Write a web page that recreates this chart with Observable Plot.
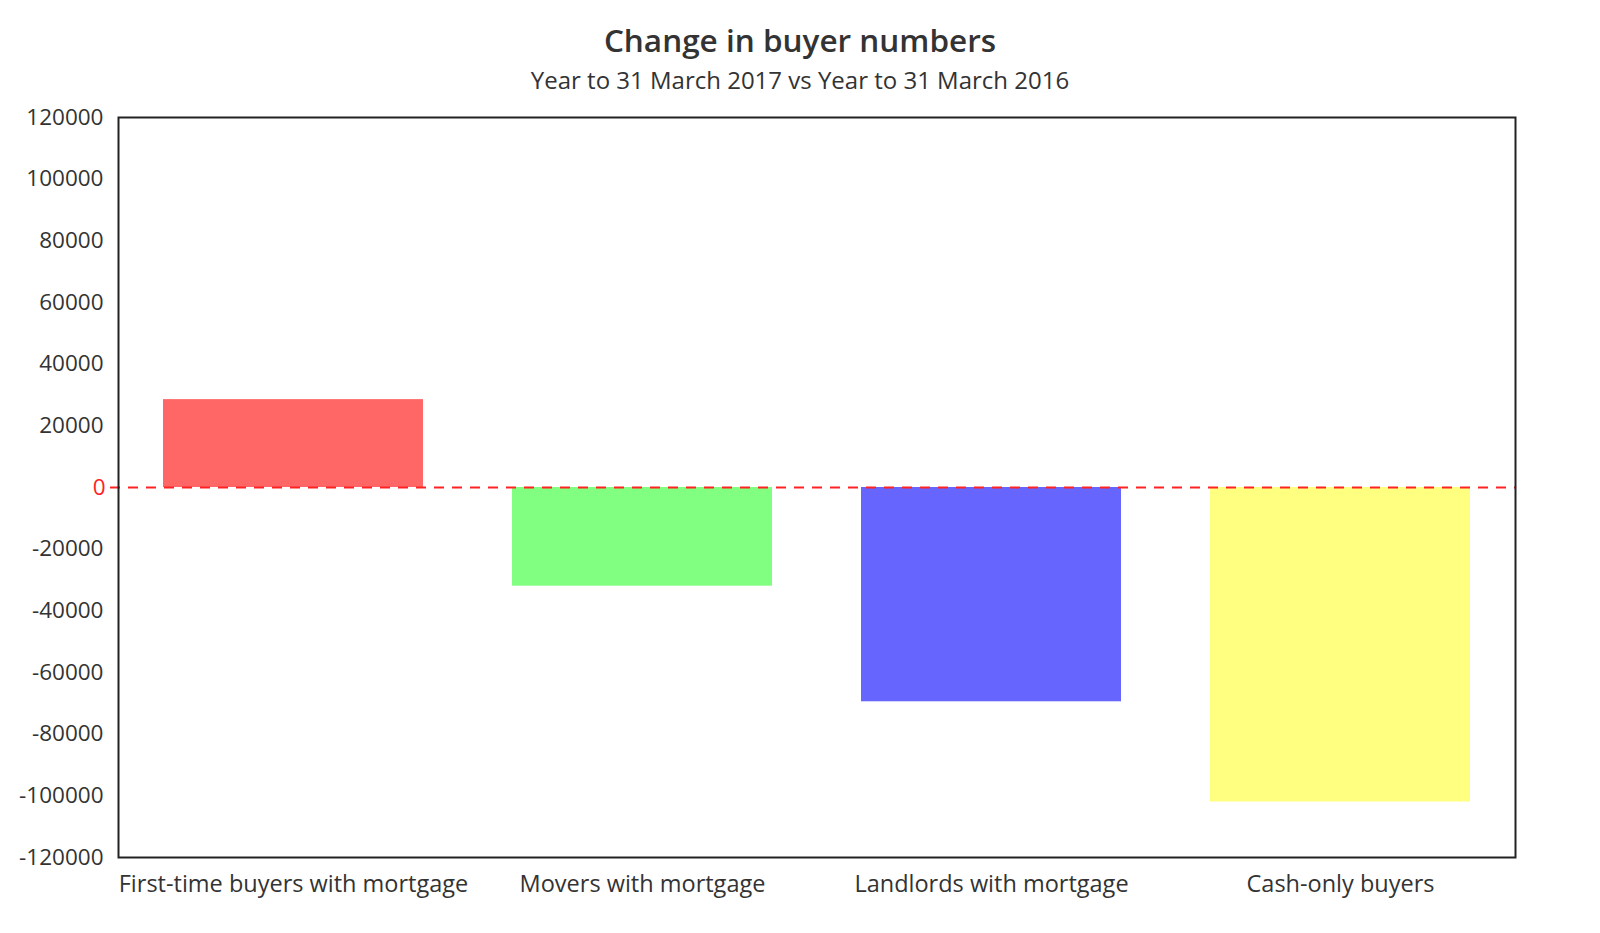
<!DOCTYPE html>
<html>
<head>
<meta charset="utf-8">
<script src="https://cdn.jsdelivr.net/npm/d3@7"></script>
<script src="https://cdn.jsdelivr.net/npm/@observablehq/plot@0.6"></script>
<style>
  body { margin: 0; background: #fff; font-family: "Open Sans", sans-serif; }
  #wrap { width: 1600px; position: relative; }
  #head { position: relative; height: 100px; width: 1600px; }
  #title { position: absolute; left: 0; width: 1600px; text-align: center; top: 21px; font-size: 31.5px; line-height: 38px; font-weight: 600; color: #333; }
  #subtitle { position: absolute; left: 0; width: 1600px; text-align: center; top: 65px; font-size: 24px; line-height: 30px; font-weight: 400; color: #333; }
  svg { display: block; }
</style>
</head>
<body>
<div id="wrap">
  <div id="head">
    <div id="title">Change in buyer numbers</div>
    <div id="subtitle">Year to 31 March 2017 vs Year to 31 March 2016</div>
  </div>
  <div id="chart"></div>
</div>
<script>
const categories = ["First-time buyers with mortgage", "Movers with mortgage", "Landlords with mortgage", "Cash-only buyers"];
const values = [28500, -32000, -69500, -102000];
const barColors = ["#ff6666", "#80ff80", "#6666ff", "#ffff80"];
const yTicks = [-120000, -100000, -80000, -60000, -40000, -20000, 20000, 40000, 60000, 80000, 100000, 120000];
const zeroTick = [0];

const data = categories.map((c, i) => ({category: c, value: values[i], color: barColors[i]}));

const chart = Plot.plot({
  width: 1600,
  height: 833,
  marginLeft: 118,
  marginRight: 85,
  marginTop: 17,
  marginBottom: 76,
  style: {fontFamily: "Open Sans, sans-serif", fontSize: "22.5px", color: "#333", background: "#fff"},
  x: {domain: categories, paddingInner: 0.255, paddingOuter: 0.1275, label: null},
  y: {domain: [-120000, 120000], label: null},
  color: {type: "identity"},
  marks: [
    Plot.barY(data, {x: "category", y: "value", fill: "color"}),
    Plot.ruleY(zeroTick, {stroke: "#ff2222", strokeWidth: 2, strokeDasharray: "10,8", insetLeft: -8}),
    Plot.frame({stroke: "#222", strokeWidth: 2}),
    Plot.axisY(yTicks, {tickSize: 0, tickPadding: 15, tickFormat: d => String(d), fill: "#333", fontSize: 22.5, label: null}),
    Plot.axisY(zeroTick, {tickSize: 0, tickPadding: 13, tickFormat: d => String(d), fill: "#ff2222", fontSize: 22.5, label: null}),
    Plot.axisX({tickSize: 0, tickPadding: 18, fill: "#333", fontSize: 23.5, label: null})
  ]
});
document.getElementById("chart").appendChild(chart);
</script>
</body>
</html>
